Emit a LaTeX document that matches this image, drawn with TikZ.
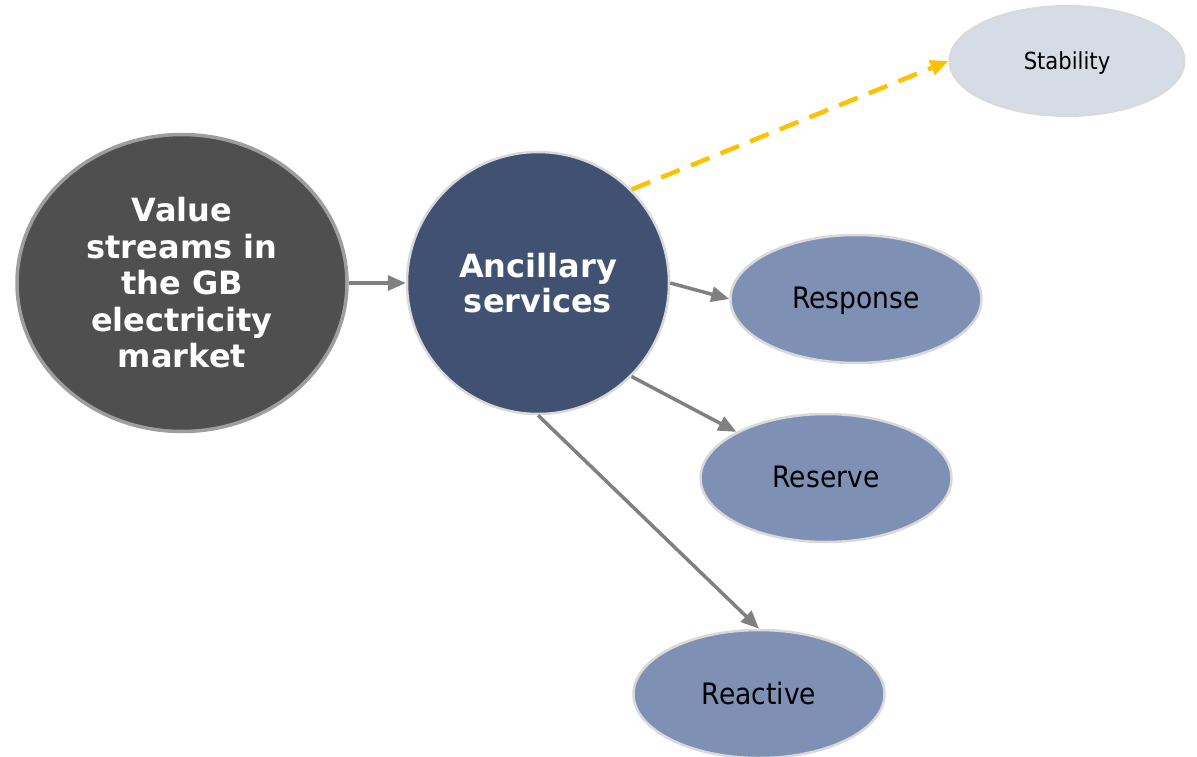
\documentclass[tikz,border=0pt]{standalone}
\usepackage{fontspec}
\setmainfont{DejaVu Sans}
\newfontfamily\condfont{DejaVu Sans Condensed}
\usetikzlibrary{arrows.meta,shapes.geometric}
\definecolor{valgrey}{HTML}{4F4F4F}
\definecolor{valrim}{HTML}{9E9E9E}
\definecolor{ancblue}{HTML}{405172}
\definecolor{subblue}{HTML}{7F90B5}
\definecolor{stabgrey}{HTML}{D6DCE5}
\definecolor{rim}{HTML}{D9D9D9}
\definecolor{linkgrey}{HTML}{808080}
\definecolor{gold}{HTML}{FFC000}
\tikzset{
  >={Triangle[length=18pt,width=15pt]},
  % noder
  val/.style={ellipse,fill=valgrey,draw=valrim,line width=3.5pt,inner sep=0pt,
              minimum width=330pt,minimum height=297pt,text=white,align=center,
              font=\fontsize{32}{36.5}\selectfont\bfseries},
  anc/.style={circle,fill=ancblue,draw=rim,line width=2.5pt,inner sep=0pt,
              minimum size=262pt,text=white,align=center,
              font=\fontsize{32}{35.5}\selectfont\bfseries},
  sub/.style={ellipse,fill=subblue,draw=rim,line width=2.5pt,inner sep=0pt,
              minimum width=251pt,minimum height=128pt,text depth=2pt,
              font=\condfont\fontsize{29.5}{32}\selectfont},
  stab/.style={ellipse,fill=stabgrey,draw=rim,line width=2pt,inner sep=0pt,
               minimum width=235pt,minimum height=110pt,text depth=1.5pt,
               font=\condfont\fontsize{23.5}{27}\selectfont},
  % pilar
  link/.style={->,draw=linkgrey,line width=3.5pt},
  link2/.style={->,draw=gold,line width=4.5pt,dash pattern=on 20pt off 12pt},
}
\begin{document}
\begin{tikzpicture}[x=1pt,y=-1pt]
\useasboundingbox (0,0) rectangle (1197,757);
  \node[val] (value) at (182,283) {Value\\streams in\\the GB\\electricity\\market};
  \node[anc] (anc) at (538,283) {Ancillary\\services};
  \node[stab] (stab) at (1067,61) {Stability};
  \node[sub] (resp) at (856,299) {Response};
  \node[sub] (res) at (826,478) {Reserve};
  \node[sub] (rea) at (759,694) {Reactive};
  \draw[link] (value) -- (anc);
  \draw[link2] (anc.north east) -- (stab.west);
  \draw[link] (anc.east) -- (resp.west);
  \draw[link] (anc.south east) -- (res.north west);
  \draw[link] (anc.south) -- (rea.north);
\end{tikzpicture}
\end{document}
